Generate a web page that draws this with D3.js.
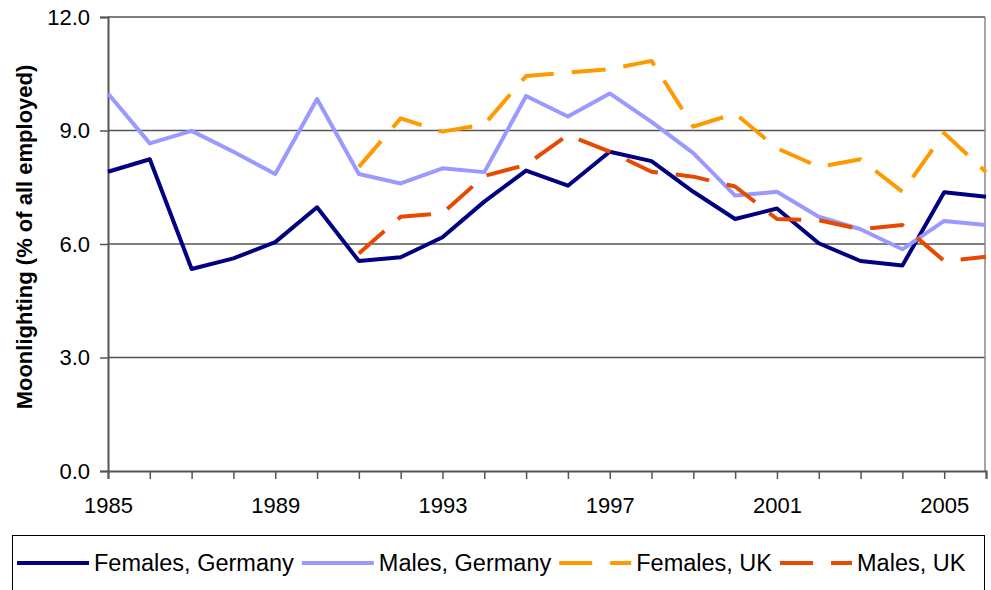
<!DOCTYPE html>
<html>
<head>
<meta charset="utf-8">
<script src="https://cdn.jsdelivr.net/npm/d3@7"></script>
<style>
  body { margin: 0; background: #fff; }
  svg { display: block; font-family: Arial, "Liberation Sans", sans-serif; }
</style>
</head>
<body>
<svg width="991" height="590"></svg>
<script>
// data, one value per year (null = no data)
var years = [1985, 1986, 1987, 1988, 1989, 1990, 1991, 1992, 1993, 1994, 1995,
             1996, 1997, 1998, 1999, 2000, 2001, 2002, 2003, 2004, 2005, 2006];
var yearLabels = [1985, 1989, 1993, 1997, 2001, 2005];
var yTicks = [0, 3, 6, 9, 12];

var femalesGermany = [7.91, 8.24, 5.34, 5.62, 6.05, 6.97, 5.55, 5.65, 6.18, 7.12, 7.94,
                      7.54, 8.44, 8.19, 7.38, 6.66, 6.94, 6.02, 5.55, 5.43, 7.37, 7.25];
var malesGermany   = [9.98, 8.66, 8.99, 8.44, 7.85, 9.83, 7.85, 7.60, 8.00, 7.90, 9.91,
                      9.37, 9.98, 9.23, 8.40, 7.28, 7.38, 6.72, 6.39, 5.86, 6.61, 6.50];
var femalesUK      = [null, null, null, null, null, null, 8.04, 9.32, 8.97, 9.16, 10.44,
                      10.53, 10.62, 10.84, 9.10, 9.45, 8.53, 8.04, 8.24, 7.38, 8.93, 7.90];
var malesUK        = [null, null, null, null, null, null, 5.75, 6.72, 6.81, 7.80, 8.09,
                      8.88, 8.44, 7.91, 7.78, 7.52, 6.66, 6.63, 6.39, 6.50, 5.55, 5.66];

var seriesNames = ["Females, Germany", "Males, Germany", "Females, UK", "Males, UK"];
var seriesValues = [femalesGermany, malesGermany, femalesUK, malesUK];
var colors = ["#000080", "#9999ff", "#ff9900", "#e64a00"];
var dashes = [null, null, "34,18", "34,18"];

var svg = d3.select("svg"),
    plotLeft = 108, plotRight = 986, plotTop = 17, plotBottom = 471;

var x = d3.scaleLinear().domain([1985, 2006]).range([plotLeft, plotRight]);
var y = d3.scaleLinear().domain([0, 12]).range([plotBottom, plotTop]);

// gridlines
svg.append("g")
  .selectAll("line")
  .data(yTicks.slice(1))
  .enter().append("line")
    .attr("x1", plotLeft).attr("x2", plotRight - 1)
    .attr("y1", function(d) { return y(d); })
    .attr("y2", function(d) { return y(d); })
    .attr("stroke", "#555")
    .attr("stroke-width", 1.5);

// right border of plot area
svg.append("line")
  .attr("x1", plotRight - 1).attr("x2", plotRight - 1)
  .attr("y1", plotTop).attr("y2", plotBottom)
  .attr("stroke", "#888")
  .attr("stroke-width", 1.5);

// axes
var xAxis = svg.append("g")
  .attr("transform", "translate(0," + plotBottom + ")")
  .call(d3.axisBottom(x)
    .tickValues(years)
    .tickSize(8)
    .tickPadding(18)
    .tickFormat(function(d) { return yearLabels.indexOf(d) >= 0 ? d : ""; }));

var yAxis = svg.append("g")
  .attr("transform", "translate(" + plotLeft + ",0)")
  .call(d3.axisLeft(y)
    .tickValues(yTicks)
    .tickSize(8)
    .tickPadding(10)
    .tickFormat(d3.format(".1f")));

[xAxis, yAxis].forEach(function(a) {
  a.attr("font-family", null).attr("font-size", null);
  a.select(".domain").attr("stroke", "#555").attr("stroke-width", 2);
  a.selectAll(".tick line").attr("stroke", "#555").attr("stroke-width", 1.5);
  a.selectAll(".tick text")
    .attr("font-size", 22)
    .attr("fill", "#000");
});

// y axis title
svg.append("text")
  .attr("transform", "translate(32,237) rotate(-90)")
  .attr("text-anchor", "middle")
  .attr("font-size", 22)
  .attr("font-weight", "bold")
  .text("Moonlighting (% of all employed)");

// lines
var line = d3.line()
  .defined(function(d) { return d.v != null; })
  .x(function(d) { return x(d.year); })
  .y(function(d) { return y(d.v); });

svg.append("g")
  .selectAll("path")
  .data(seriesValues)
  .enter().append("path")
    .attr("fill", "none")
    .attr("stroke", function(d, i) { return colors[i]; })
    .attr("stroke-width", 4)
    .attr("stroke-linejoin", "round")
    .attr("stroke-dasharray", function(d, i) { return dashes[i]; })
    .attr("d", function(vals) {
      return line(vals.map(function(v, i) { return {year: years[i], v: v}; }));
    });

// legend
svg.append("rect")
  .attr("x", 12.5).attr("y", 535.5)
  .attr("width", 972).attr("height", 80)
  .attr("fill", "none")
  .attr("stroke", "#000")
  .attr("stroke-width", 1);

var lx = 17, ly = 563;
seriesNames.forEach(function(name, i) {
  svg.append("line")
    .attr("x1", lx).attr("x2", lx + 72)
    .attr("y1", ly).attr("y2", ly)
    .attr("stroke", colors[i])
    .attr("stroke-width", 4)
    .attr("stroke-dasharray", dashes[i] ? "33,18" : null);
  var t = svg.append("text")
    .attr("x", lx + 77).attr("y", ly)
    .attr("dy", "0.35em")
    .attr("font-size", 23.5)
    .text(name);
  lx += 77 + t.node().getComputedTextLength() + 8;
});
</script>
</body>
</html>
